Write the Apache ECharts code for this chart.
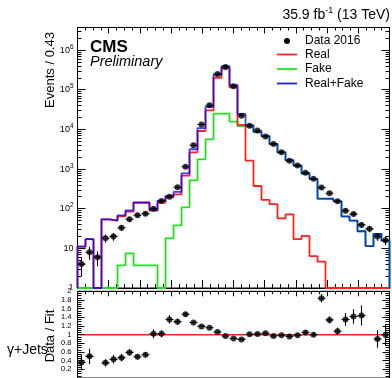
<!DOCTYPE html>
<html>
<head>
<meta charset="utf-8">
<script src="https://cdn.jsdelivr.net/npm/echarts@6/dist/echarts.min.js"></script>
<style>
  html, body { margin: 0; padding: 0; background: #fff; }
  #chart { width: 392px; height: 378px; }
</style>
</head>
<body>
<div id="chart"></div>
<script>
// Binning of the distribution
const binWidth = 0.43;
const nBins = 39;
const xMin = 0;
const xMax = 16.77;

// Event counts per bin
const data2016 = [4, 8, 6, 18, 20, 33, 54, 68, 75, 100, 156, 200, 346, 1140, 3980, 13200, 40500, 250000, 372000, 123000, 22000, 12300, 9300, 6600, 4300, 2640, 1620, 1220, 810, 570, 340, 245, 154, 89, 73, 39, 31, 20, 16];
const real = [11, 17, 0, 54, 50, 64, 84, 141, 141, 89, 142, 194, 230, 680, 2620, 9100, 30000, 200000, 347000, 115000, 13000, 1620, 373, 166, 130, 57, 72, 17, 20.5, 6.4, 4.6, 0, 0, 0, 0, 0, 0, 0, 0];
const fake = [0, 0, 0, 0, 0, 3.7, 7.5, 3.7, 3.7, 3.7, 0, 17.9, 38, 108, 520, 1760, 5600, 24900, 24900, 15700, 12000, 11000, 8400, 6600, 4170, 2590, 1630, 1220, 760, 555, 176, 178, 153, 63, 50, 27, 11.4, 23, 15.6];
const realPlusFake = [11, 17, 0, 54, 50, 68, 91, 145, 145, 93, 160, 210, 264, 780, 3150, 10700, 37000, 236000, 395000, 132000, 24500, 12700, 8800, 6800, 4300, 2650, 1700, 1240, 780, 560, 180, 178, 153, 64, 50, 27, 11.4, 23, 15.6];

// Data / Fit ratio per bin (null where the fit is empty)
const dataOverFit = [0.36, 0.50, null, 0.35, 0.43, 0.47, 0.59, 0.49, 0.535, 1.02, 1.02, 1.35, 1.30, 1.47, 1.28, 1.19, 1.16, 1.06, 0.97, 0.91, 0.89, 1.01, 1.015, 1.03, 0.97, 0.985, 0.96, 0.985, 1.05, 1.0, 1.84, 1.34, 1.08, 1.35, 1.42, 1.44, 2.72, 0.90, 1.0];

// Axis ticks
const yMin = 1, yMax = 3.7e6;
const logMajorTicks = [1, 10, 100, 1e3, 1e4, 1e5, 1e6];
const ratioLabels = [0.2, 0.4, 0.6, 0.8, 1, 1.2, 1.4, 1.6, 1.8, 2];

const FONT = 'Liberation Sans';
const edges = Array.from({ length: nBins + 1 }, (_, i) => i * binWidth);
const centers = edges.slice(0, nBins).map(e => e + binWidth / 2);

const logMinorTicks = [];
logMajorTicks.forEach(d => {
  for (let k = 2; k <= 9; k++) { if (d * k <= yMax) logMinorTicks.push(d * k); }
});

// Histogram outline as a step polyline closed to the axis floor
function stepPoints(values) {
  const pts = [[edges[0], yMin]];
  values.forEach((v, i) => {
    const y = Math.max(v, yMin);
    pts.push([edges[i], y], [edges[i + 1], y]);
  });
  pts.push([edges[nBins], yMin]);
  return pts;
}

function errorBarItems(values, errFn) {
  const out = [];
  values.forEach((v, i) => {
    if (v == null || v <= 0) return;
    const e = errFn(v, i);
    out.push([centers[i], v, v - e, v + e, edges[i], edges[i + 1]]);
  });
  return out;
}

function renderErrorBar(params, api) {
  const xc = api.value(0), v = api.value(1);
  const lo = api.value(2), hi = api.value(3);
  const x0 = api.value(4), x1 = api.value(5);
  const cs = params.coordSys;
  const pLo = api.coord([xc, Math.max(lo, params.seriesIndex < 6 ? 0.01 : -1)]);
  const pHi = api.coord([xc, hi]);
  const a = api.coord([x0, v]);
  const b = api.coord([x1, v]);
  const st = { stroke: '#000', lineWidth: 1.1 };
  return {
    type: 'group',
    clipPath: { type: 'rect', shape: { x: cs.x, y: cs.y, width: cs.width, height: cs.height } },
    children: [
      { type: 'line', shape: { x1: pLo[0], y1: pLo[1], x2: pHi[0], y2: pHi[1] }, style: st },
      { type: 'line', shape: { x1: a[0], y1: a[1], x2: b[0], y2: b[1] }, style: st }
    ]
  };
}

const countErrors = errorBarItems(data2016, v => Math.sqrt(v));
const ratioErrors = errorBarItems(dataOverFit, (r, i) => r / Math.sqrt(data2016[i]));

function xAxisDef(gridIndex, position, major, minor, ticks) {
  return {
    type: 'value', gridIndex, position, min: xMin, max: xMax, interval: xMax / 10,
    axisLine: { show: true, onZero: false, lineStyle: { color: '#000', width: 1 } },
    axisTick: { show: ticks, inside: true, length: major, lineStyle: { color: '#000' } },
    minorTick: { show: ticks, splitNumber: 4, length: minor, lineStyle: { color: '#000' } },
    axisLabel: { show: false }, splitLine: { show: false }
  };
}

function logAxisDef(position, ticks, len, labels) {
  return {
    type: 'log', logBase: 10, gridIndex: 0, position, min: yMin, max: yMax,
    axisLine: { show: labels, onZero: false, lineStyle: { color: '#000' } },
    axisTick: { show: true, inside: true, length: len, customValues: ticks, lineStyle: { color: '#000' } },
    axisLabel: {
      show: labels, customValues: ticks, margin: 4, color: '#000', fontFamily: FONT, fontSize: 9,
      formatter: v => {
        const n = Math.round(Math.log10(v));
        if (n === 0) return '1';
        if (n === 1) return '10';
        return '10{sup|' + n + '}';
      },
      rich: { sup: { fontSize: 6.5, verticalAlign: 'top', padding: [0, 0, 6, 0], fontFamily: FONT, color: '#000' } }
    },
    splitLine: { show: false }, z: 1
  };
}

function ratioAxisDef(position, labels) {
  return {
    type: 'value', gridIndex: 1, position, min: 0, max: 2, interval: 0.2,
    axisLine: { show: true, onZero: false, lineStyle: { color: '#000' } },
    axisTick: { show: true, inside: true, length: 7, lineStyle: { color: '#000' } },
    minorTick: { show: true, splitNumber: 4, length: 4, lineStyle: { color: '#000' } },
    axisLabel: {
      show: labels, margin: 6, color: '#000', fontFamily: FONT, fontSize: 7.5,
      customValues: ratioLabels,
      formatter: v => String(Math.round(v * 10) / 10)
    },
    splitLine: { show: false }, z: 5
  };
}

const chart = echarts.init(document.getElementById('chart'), null, { renderer: 'canvas' });

const option = {
  animation: false,
  backgroundColor: '#fff',
  grid: [
    { left: 77.5, right: 2.5, top: 27.5, height: 260.5, show: true, borderColor: '#000', borderWidth: 1, backgroundColor: 'transparent' },
    { left: 77.5, right: 2.5, top: 291.3, height: 93.4, show: true, borderColor: '#000', borderWidth: 1, backgroundColor: 'transparent' }
  ],
  xAxis: [
    xAxisDef(0, 'bottom', 8, 4, true),
    xAxisDef(0, 'top', 6, 3, true),
    xAxisDef(1, 'bottom', 6, 3, false),
    xAxisDef(1, 'top', 5, 3, true)
  ],
  yAxis: [
    logAxisDef('left', logMajorTicks, 8, true),
    logAxisDef('left', logMinorTicks, 4, false),
    logAxisDef('right', logMajorTicks, 8, false),
    logAxisDef('right', logMinorTicks, 4, false),
    ratioAxisDef('left', true),
    ratioAxisDef('right', false)
  ],
  graphic: [
    { type: 'rect', z: 3, shape: { x: 0, y: 289.5, width: 77, height: 90 }, style: { fill: '#fff' } },
    { type: 'text', x: 390, y: 15, style: {
        text: '35.9 fb{sup|-1} (13 TeV)', align: 'right', verticalAlign: 'middle',
        font: '14px "Liberation Sans"', fill: '#000',
        rich: { sup: { fontSize: 9, verticalAlign: 'top', padding: [0, 0, 8, 0], fontFamily: FONT, fill: '#000' } }
    } },
    { type: 'text', x: 90, y: 47, style: { text: 'CMS', font: 'bold 17px "Liberation Sans"', fill: '#000', verticalAlign: 'middle' } },
    { type: 'text', x: 90, y: 62, style: { text: 'Preliminary', font: 'italic 14.5px "Liberation Sans"', fill: '#000', verticalAlign: 'middle' } },
    { type: 'text', x: 50, y: 70, rotation: Math.PI / 2, style: { text: 'Events / 0.43', font: '13px "Liberation Sans"', fill: '#000', align: 'center', verticalAlign: 'middle' } },
    { type: 'text', x: 50, y: 336, z: 6, rotation: Math.PI / 2, style: { text: 'Data / Fit', font: '13px "Liberation Sans"', fill: '#000', align: 'center', verticalAlign: 'middle' } },
    { type: 'text', x: 7, y: 350, z: 6, style: { text: 'γ+Jets', font: '14px "Liberation Sans"', fill: '#000', verticalAlign: 'middle' } },
    // legend
    { type: 'circle', shape: { cx: 287, cy: 41, r: 3 }, style: { fill: '#000' } },
    { type: 'text', x: 305, y: 41, style: { text: 'Data 2016', font: '12px "Liberation Sans"', fill: '#000', verticalAlign: 'middle' } },
    { type: 'line', shape: { x1: 277, y1: 54.5, x2: 297, y2: 54.5 }, style: { stroke: '#ff2020', lineWidth: 1.8 } },
    { type: 'text', x: 305, y: 54.5, style: { text: 'Real', font: '12px "Liberation Sans"', fill: '#000', verticalAlign: 'middle' } },
    { type: 'line', shape: { x1: 277, y1: 69, x2: 297, y2: 69 }, style: { stroke: '#22dd22', lineWidth: 1.8 } },
    { type: 'text', x: 305, y: 69, style: { text: 'Fake', font: '12px "Liberation Sans"', fill: '#000', verticalAlign: 'middle' } },
    { type: 'line', shape: { x1: 277, y1: 83.5, x2: 297, y2: 83.5 }, style: { stroke: '#2020ff', lineWidth: 1.8 } },
    { type: 'text', x: 305, y: 83.5, style: { text: 'Real+Fake', font: '12px "Liberation Sans"', fill: '#000', verticalAlign: 'middle' } }
  ],
  series: [
    { name: 'Fake', type: 'line', xAxisIndex: 0, yAxisIndex: 0, data: stepPoints(fake), symbol: 'none', clip: true,
      lineStyle: { color: '#22dd22', width: 1.8 }, z: 2 },
    { name: 'Real', type: 'line', xAxisIndex: 0, yAxisIndex: 0, data: stepPoints(real), symbol: 'none', clip: true,
      lineStyle: { color: '#ff2020', width: 1.8 }, z: 3 },
    { name: 'Real+Fake', type: 'line', xAxisIndex: 0, yAxisIndex: 0, data: stepPoints(realPlusFake), symbol: 'none', clip: true,
      lineStyle: { color: '#0000ff', width: 1.8, opacity: 0.75 }, z: 4 },
    { name: 'Data 2016 errors', type: 'custom', xAxisIndex: 0, yAxisIndex: 0, data: countErrors,
      encode: { x: [0, 4, 5], y: [1, 2, 3] }, renderItem: renderErrorBar, clip: true, z: 5 },
    { name: 'Data 2016', type: 'scatter', xAxisIndex: 0, yAxisIndex: 0,
      data: data2016.map((v, i) => [centers[i], v]), symbol: 'circle', symbolSize: 6,
      itemStyle: { color: '#000' }, clip: true, z: 6 },
    { name: 'Unity', type: 'line', xAxisIndex: 2, yAxisIndex: 4, data: [[xMin, 1], [xMax, 1]], symbol: 'none',
      lineStyle: { color: '#ff2020', width: 1.5 }, z: 2 },
    { name: 'Ratio errors', type: 'custom', xAxisIndex: 2, yAxisIndex: 4, data: ratioErrors,
      encode: { x: [0, 4, 5], y: [1, 2, 3] }, renderItem: renderErrorBar, clip: true, z: 5 },
    { name: 'Data / Fit', type: 'scatter', xAxisIndex: 2, yAxisIndex: 4,
      data: dataOverFit.map((v, i) => [centers[i], v]).filter(p => p[1] != null), symbol: 'circle', symbolSize: 6,
      itemStyle: { color: '#000' }, clip: true, z: 6 }
  ]
};

chart.setOption(option);
</script>
</body>
</html>
